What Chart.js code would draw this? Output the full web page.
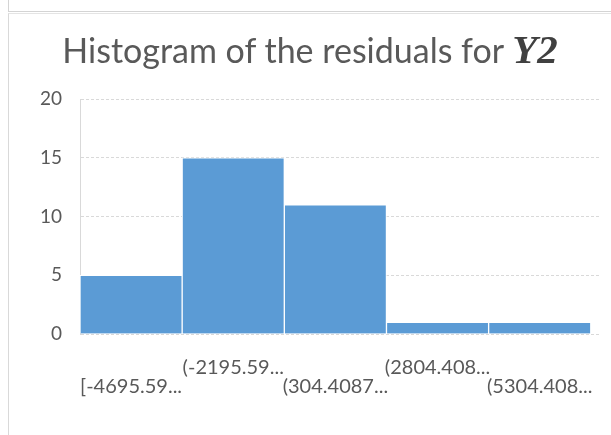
<!DOCTYPE html>
<html>
<head>
<meta charset="utf-8">
<script src="https://cdn.jsdelivr.net/npm/chart.js@4.4.0/dist/chart.umd.min.js"></script>
<style>
	body { margin: 0; width: 611px; height: 435px; background: #fff; position: relative; overflow: hidden; }
	#topcell { position: absolute; left: 8px; top: -1px; width: 620px; height: 12px; border-left: 1px solid #d4d4d4; border-bottom: 1px solid #d4d4d4; }
	#frame { position: absolute; left: 8px; top: 13px; width: 610px; height: 430px; border-left: 1px solid #d9d9d9; border-top: 1px solid #e4e4e4; }
	#chartTitle { position: absolute; left: 9px; width: 602px; top: 29px; line-height: 40px; text-align: center; font-family: Lato, sans-serif; font-size: 34px; color: #595959; white-space: nowrap; }
	#chartTitle b { font-family: "Liberation Serif", serif; font-style: italic; font-weight: bold; font-size: 41px; color: #404040; }
	#wrap { position: absolute; left: 9px; top: 13px; width: 602px; height: 422px; }
</style>
</head>
<body>
<div id="topcell"></div>
<div id="frame"></div>
<div id="wrap"><canvas id="chart" width="602" height="422"></canvas></div>
<div id="chartTitle">Histogram of the residuals for <b>Y2</b></div>
<script>
// bins of the residual histogram
const binLabels = ['[-4695.59...', '(-2195.59...', '(304.4087...', '(2804.408...', '(5304.408...'];
const binCenters = [0.5, 1.5, 2.5, 3.5, 4.5];
const counts = [5, 15, 11, 1, 1];
const yTicks = [0, 5, 10, 15, 20];

const textColor = '#595959';
const gridColor = '#d9d9d9';

const data = {
	datasets: [{
		label: 'Frequency',
		data: binCenters.map((x, i) => ({ x: x, y: counts[i] })),
		backgroundColor: '#5b9bd5',
		borderColor: '#ffffff',
		borderWidth: 1,
		categoryPercentage: 1,
		barPercentage: 1
	}]
};

const config = {
	type: 'bar',
	data: data,
	options: {
		responsive: false,
		animation: false,
		layout: { padding: { top: 86, right: 10, left: 0, bottom: 0 } },
		plugins: {
			legend: { display: false },
			title: { display: false },
			tooltip: { enabled: false }
		},
		scales: {
			x: {
				type: 'linear',
				offset: false,
				min: 0,
				max: 5.1,
				afterFit: (scale) => {
					scale.height = 101;
					scale.paddingLeft = 0;
					scale.paddingRight = 0;
				},
				afterBuildTicks: (scale) => { scale.ticks = binCenters.map(v => ({ value: v })); },
				grid: { display: false, drawTicks: false },
				border: { display: false },
				ticks: {
					autoSkip: false,
					maxRotation: 0,
					padding: 24,
					color: textColor,
					font: { family: 'Lato', size: 20, lineHeight: 0.95 },
					callback: (value, index) => index % 2 === 0 ? ['', binLabels[index]] : [binLabels[index]]
				}
			},
			y: {
				min: 0,
				max: 20,
				afterFit: (scale) => { scale.width = 71; },
				afterBuildTicks: (scale) => { scale.ticks = yTicks.map(v => ({ value: v })); },
				grid: { color: gridColor, drawTicks: false },
				border: { display: true, color: gridColor, dash: [3, 2] },
				ticks: {
					padding: 18,
					color: textColor,
					font: { family: 'Lato', size: 19 }
				}
			}
		}
	}
};

const myChart = new Chart(document.getElementById('chart'), config);
</script>
</body>
</html>
